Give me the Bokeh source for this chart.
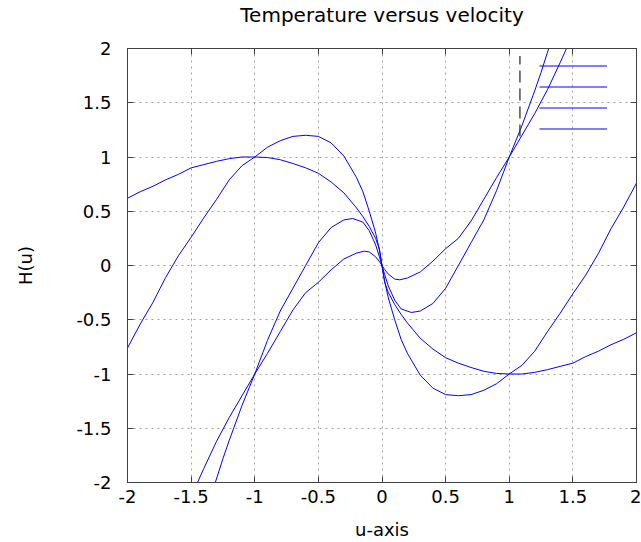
from bokeh.plotting import figure
from bokeh.models import FixedTicker, LinearAxis, Legend, LegendItem, Range1d
from bokeh.embed import file_html
from bokeh.resources import INLINE

# ---- data ----
u_a = [-2.0, -1.9, -1.8, -1.7, -1.6, -1.5, -1.4, -1.3, -1.2, -1.1, -1.0, -0.9, -0.8, -0.7, -0.6, -0.5,
       -0.4, -0.3, -0.2, -0.15, -0.1, -0.05, -0.02,
       0.02, 0.05, 0.1, 0.15, 0.2, 0.3, 0.4, 0.5, 0.6, 0.7, 0.8, 0.9, 1.0, 1.1, 1.2, 1.3, 1.4, 1.5,
       1.6, 1.7, 1.8, 1.9, 2.0]
h_a = [0.62, 0.68, 0.73, 0.79, 0.84, 0.90, 0.93, 0.96, 0.985, 1.0, 1.0, 0.995, 0.975, 0.94, 0.90, 0.85,
       0.77, 0.67, 0.53, 0.45, 0.36, 0.25, 0.15,
       -0.15, -0.25, -0.36, -0.45, -0.53, -0.67, -0.77, -0.85, -0.90, -0.94, -0.975, -0.995, -1.0, -1.0,
       -0.985, -0.96, -0.93, -0.90, -0.84, -0.79, -0.73, -0.68, -0.62]

u_b = [-2.0, -1.9, -1.8, -1.7, -1.6, -1.5, -1.4, -1.3, -1.2, -1.1, -1.0, -0.9, -0.8, -0.7, -0.6, -0.5,
       -0.4, -0.3, -0.2, -0.15, -0.1, -0.05, -0.02,
       0.02, 0.05, 0.1, 0.15, 0.2, 0.3, 0.4, 0.5, 0.6, 0.7, 0.8, 0.9, 1.0, 1.1, 1.2, 1.3, 1.4, 1.5,
       1.6, 1.7, 1.8, 1.9, 2.0]
h_b = [-0.76, -0.54, -0.34, -0.11, 0.09, 0.26, 0.44, 0.61, 0.79, 0.92, 1.0, 1.09, 1.15, 1.19, 1.20, 1.19,
       1.13, 1.01, 0.81, 0.68, 0.50, 0.30, 0.14,
       -0.14, -0.30, -0.50, -0.68, -0.81, -1.01, -1.13, -1.19, -1.20, -1.19, -1.15, -1.09, -1.0, -0.92,
       -0.79, -0.61, -0.44, -0.26, -0.09, 0.11, 0.34, 0.54, 0.76]

u_c = [-1.31, -1.25, -1.2, -1.1, -1.0, -0.9, -0.8, -0.7, -0.6, -0.5, -0.4, -0.3, -0.23, -0.15, -0.1,
       -0.05, -0.02,
       0.02, 0.05, 0.1, 0.15, 0.23, 0.3, 0.4, 0.5, 0.6, 0.7, 0.8, 0.9, 1.0, 1.1, 1.2, 1.25, 1.31]
h_c = [-2.0, -1.78, -1.61, -1.29, -1.0, -0.69, -0.42, -0.21, 0.0, 0.21, 0.35, 0.42, 0.433, 0.40, 0.32,
       0.19, 0.08,
       -0.08, -0.19, -0.32, -0.40, -0.433, -0.42, -0.35, -0.21, 0.0, 0.21, 0.42, 0.69, 1.0, 1.29, 1.61,
       1.78, 2.0]

u_d = [-1.45, -1.4, -1.3, -1.2, -1.1, -1.0, -0.9, -0.8, -0.7, -0.6, -0.5, -0.4, -0.3, -0.2, -0.14, -0.1,
       -0.05, -0.02,
       0.02, 0.05, 0.1, 0.14, 0.2, 0.3, 0.4, 0.5, 0.6, 0.7, 0.8, 0.9, 1.0, 1.1, 1.2, 1.3, 1.4, 1.45]
h_d = [-2.0, -1.87, -1.62, -1.40, -1.20, -1.0, -0.81, -0.61, -0.41, -0.25, -0.155, -0.04, 0.06, 0.115,
       0.132, 0.125, 0.08, 0.035,
       -0.035, -0.08, -0.125, -0.132, -0.115, -0.06, 0.04, 0.155, 0.25, 0.41, 0.61, 0.81, 1.0, 1.20, 1.40,
       1.62, 1.87, 2.0]

x_ticks = [-2, -1.5, -1, -0.5, 0, 0.5, 1, 1.5, 2]
x_tick_labels = ["-2", "-1.5", "-1", "-0.5", "0", "0.5", "1", "1.5", "2"]
y_ticks = [-2, -1.5, -1, -0.5, 0, 0.5, 1, 1.5, 2]
y_tick_labels = ["-2", "-1.5", "-1", "-0.5", "0", "0.5", "1", "1.5", "2"]

# dashed mark seen next to the key
mark_u = [1.084]
mark_h0 = [1.19]
mark_h1 = [1.93]

FONT = "DejaVu Sans"
BORDER = "#404040"

p = figure(width=641, height=542, x_range=Range1d(-2, 2), y_range=Range1d(-2, 2),
           output_backend="svg", toolbar_location=None,
           title="Temperature versus velocity",
           min_border_left=127, min_border_right=5, min_border_top=48, min_border_bottom=60)

p.title.align = "center"
p.title.text_font = FONT
p.title.text_font_size = "20px"
p.title.text_font_style = "normal"
p.title.text_color = "#000000"
p.title.standoff = 0

p.outline_line_color = BORDER
p.outline_line_width = 1
p.background_fill_color = "white"
p.border_fill_color = "white"

xt = FixedTicker(ticks=x_ticks)
yt = FixedTicker(ticks=y_ticks)

for ax, tk, labels in ((p.xaxis[0], xt, x_tick_labels), (p.yaxis[0], yt, y_tick_labels)):
    ax.ticker = tk
    ax.major_label_overrides = {t: l for t, l in zip(tk.ticks, labels)}
    ax.major_tick_in = 6
    ax.major_tick_out = 0
    ax.minor_tick_line_color = None
    ax.major_tick_line_color = BORDER
    ax.axis_line_color = BORDER
    ax.major_label_text_font = FONT
    ax.major_label_text_font_size = "18px"
    ax.major_label_text_color = "#000000"
    ax.axis_label_text_font = FONT
    ax.axis_label_text_font_size = "18px"
    ax.axis_label_text_font_style = "normal"
    ax.axis_label_text_color = "#000000"

p.xaxis.axis_label = "u-axis"
p.yaxis.axis_label = "H(u)"
p.xaxis.major_label_standoff = 7
p.xaxis.axis_label_standoff = 13
p.yaxis.major_label_standoff = 16
p.yaxis.axis_label_standoff = 37

# mirrored ticks on top and right
top_ax = LinearAxis(ticker=xt, major_tick_in=6, major_tick_out=0,
                    minor_tick_line_color=None, major_tick_line_color=BORDER,
                    axis_line_color=BORDER, major_label_text_font_size="0px",
                    major_label_standoff=0, major_label_text_alpha=0,
                    axis_label="\u00a0", axis_label_text_font_size="15px",
                    axis_label_standoff=2)
p.add_layout(top_ax, "above")
right_ax = LinearAxis(ticker=yt, major_tick_in=6, major_tick_out=0,
                      minor_tick_line_color=None, major_tick_line_color=BORDER,
                      axis_line_color=BORDER, major_label_text_font_size="0px",
                      major_label_standoff=0, major_label_text_alpha=0)
p.add_layout(right_ax, "right")

for g, tk in ((p.xgrid[0], xt), (p.ygrid[0], yt)):
    g.ticker = tk
    g.grid_line_color = "#a0a0a0"
    g.grid_line_dash = "2 4"
    g.grid_line_width = 1

renderers = []
for u, h in ((u_a, h_a), (u_b, h_b), (u_c, h_c), (u_d, h_d)):
    r = p.line(u, h, line_color="#0000ff", line_width=1)
    renderers.append(r)

p.segment(x0=mark_u, y0=mark_h0, x1=mark_u, y1=mark_h1, line_color="#303030",
          line_width=1.3, line_dash="12 6")

legend = Legend(items=[LegendItem(label=" ", renderers=[r]) for r in renderers],
                location=(412, 343), orientation="vertical",
                glyph_width=68, glyph_height=21, spacing=0, padding=0, margin=0,
                border_line_alpha=0, background_fill_alpha=0,
                label_text_font_size="1px", label_standoff=0)
p.add_layout(legend)

open("out.html", "w").write(file_html(p, INLINE))
